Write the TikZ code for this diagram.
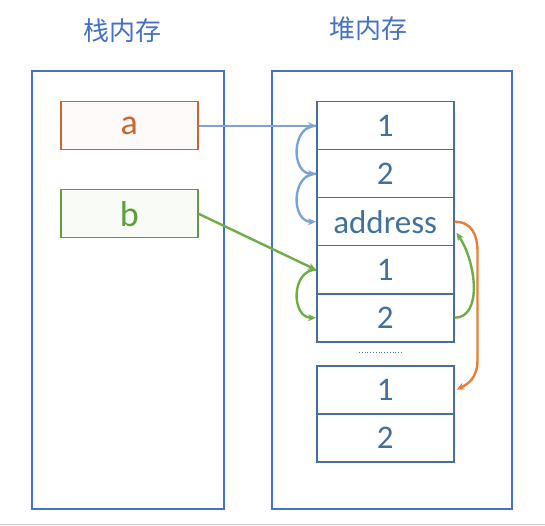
\documentclass[tikz,border=0pt]{standalone}
\usepackage{fontspec}
\setmainfont{Carlito}
\newfontfamily\cjkfont{Noto Sans CJK SC}
\usetikzlibrary{arrows.meta,calc}
\definecolor{panelblue}{HTML}{4472C4}
\definecolor{cellblue}{HTML}{41719C}
\definecolor{arrblue}{HTML}{7BA3D6}
\definecolor{arrgreen}{HTML}{70AD47}
\definecolor{arrorange}{HTML}{ED7D31}
\definecolor{aorange}{HTML}{C9662A}
\definecolor{bgreen}{HTML}{5F9E3C}
\tikzset{
  panel/.style={draw=panelblue, line width=1.5pt},
  title/.style={text=panelblue, font=\cjkfont\fontsize{26}{30}\selectfont},
  cell/.style={draw=cellblue, line width=1.5pt, minimum width=137pt, minimum height=48pt, inner sep=0pt, text=cellblue, font=\fontsize{33}{36}\selectfont, anchor=north west},
  varbox/.style={line width=1.5pt, minimum width=137pt, minimum height=48pt, inner sep=0pt, font=\fontsize{36}{38}\selectfont, anchor=north west},
  tip/.style={-{Stealth[length=8pt,width=7pt]}},
  conn/.style={line width=2.4pt, tip},
}
\begin{document}
\begin{tikzpicture}[x=1pt,y=-1pt]
\useasboundingbox (0,0) rectangle (545,526);
\draw[draw=black!22, line width=1.5pt] (0,524.5) -- (545,524.5);
% panels
\draw[panel] (32,71) rectangle (224,509);
\draw[panel] (272,71) rectangle (512,509);
\node[title] (t1) at (122,31) {栈内存};
\node[title] (t2) at (368,29) {堆内存};
% stack variables
\node[varbox, draw=aorange, fill=aorange!3, text=aorange] (a) at (60,101) {a};
\node[varbox, draw=bgreen, fill=bgreen!4, text=bgreen] (b) at (60,189) {b};
% heap cells
\node[cell] (c1) at (316,101) {1};
\node[cell] (c2) at (316,149) {2};
\node[cell] (c3) at (316,197) {address};
\node[cell] (c4) at (316,245) {1};
\node[cell] (c5) at (316,293) {2};
\node[cell] (c6) at (316,365) {1};
\node[cell] (c7) at (316,413) {2};
\draw[panelblue, dotted, line width=0.8pt] (359,352) -- (403,352);
% connectors
\draw[conn, arrblue] (a.east) -- (c1.west);
\draw[conn, arrblue] (c1.west) .. controls +(-25,0) and +(-25,0) .. (c2.west);
\draw[conn, arrblue] (c2.west) .. controls +(-25,0) and +(-25,0) .. (c3.west);
\draw[conn, arrgreen] (b.east) -- (c4.west);
\draw[conn, arrgreen] (c4.west) .. controls +(-25,0) and +(-25,0) .. (c5.west);
\coordinate (g1) at ($(c3.east)+(2,11)$);
\draw[conn, arrgreen] (c5.east) .. controls +(28,0) and +(20,30) .. (g1);
\coordinate (o1) at ($(c3.east)+(23,30)$);
\coordinate (o2) at ($(c6.east)+(23,-30)$);
\coordinate (o3) at ($(c6.east)+(2,0)$);
\draw[line width=2.4pt, arrorange, tip] (c3.east) .. controls +(18,0) and +(0,-16) .. (o1) -- (o2) .. controls +(0,18) and +(12,-6) .. (o3);
\end{tikzpicture}
\end{document}
